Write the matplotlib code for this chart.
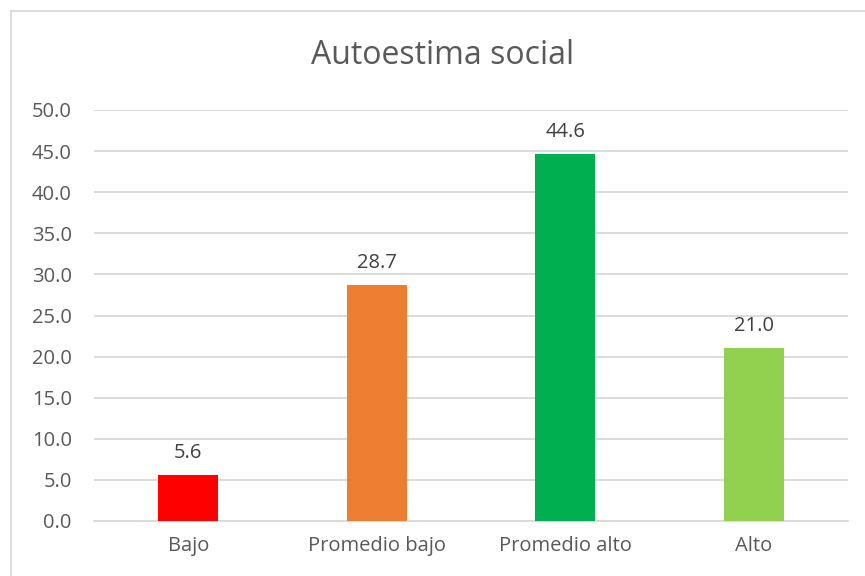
import matplotlib.pyplot as plt
from matplotlib.patches import Rectangle

categories = ["Bajo", "Promedio bajo", "Promedio alto", "Alto"]
values = [5.6, 28.7, 44.6, 21.0]
colors = ["#ff0000", "#ed7d31", "#00b050", "#92d050"]
yticks = [0, 5, 10, 15, 20, 25, 30, 35, 40, 45, 50]

plt.rcParams['font.family'] = ['Open Sans', 'DejaVu Sans']
text_color = "#595959"

fig = plt.figure(figsize=(8.65, 5.76), dpi=100)
ax = fig.add_axes([94 / 865, 1 - 521 / 576, 754 / 865, 411 / 576])

x = range(len(categories))
bars = ax.bar(x, values, width=0.32, color=colors, zorder=3)
for xi, v in zip(x, values):
    ax.text(xi, v + 1.5, f"{v:.1f}", ha="center", va="bottom",
            fontsize=14.5, color="#404040")

ax.set_xlim(-0.5, len(categories) - 0.5)
ax.set_ylim(0, 50)
ax.set_yticks(yticks)
ax.set_yticklabels([f"{t:.1f}" for t in yticks])
ax.set_xticks(list(x))
ax.set_xticklabels(categories)
ax.tick_params(length=0, labelsize=14.5, labelcolor=text_color)
ax.tick_params(axis="y", pad=16)
ax.tick_params(axis="x", pad=11)
ax.grid(axis="y", color="#d9d9d9", linewidth=1.3, zorder=0)
for s in ["top", "right", "left"]:
    ax.spines[s].set_visible(False)
ax.spines["bottom"].set_color("#d9d9d9")
ax.spines["bottom"].set_linewidth(1.3)

fig.text(443 / 865, 1 - 55 / 576, "Autoestima social", ha="center", va="center",
         fontsize=23, color=text_color)

fig.patches.append(Rectangle((11 / 865, -0.1), 1.0, 1 - 11 / 576 + 0.1,
                             transform=fig.transFigure, fill=False,
                             edgecolor="#d9d9d9", linewidth=1.3))

fig.savefig("out.png", dpi=100)
